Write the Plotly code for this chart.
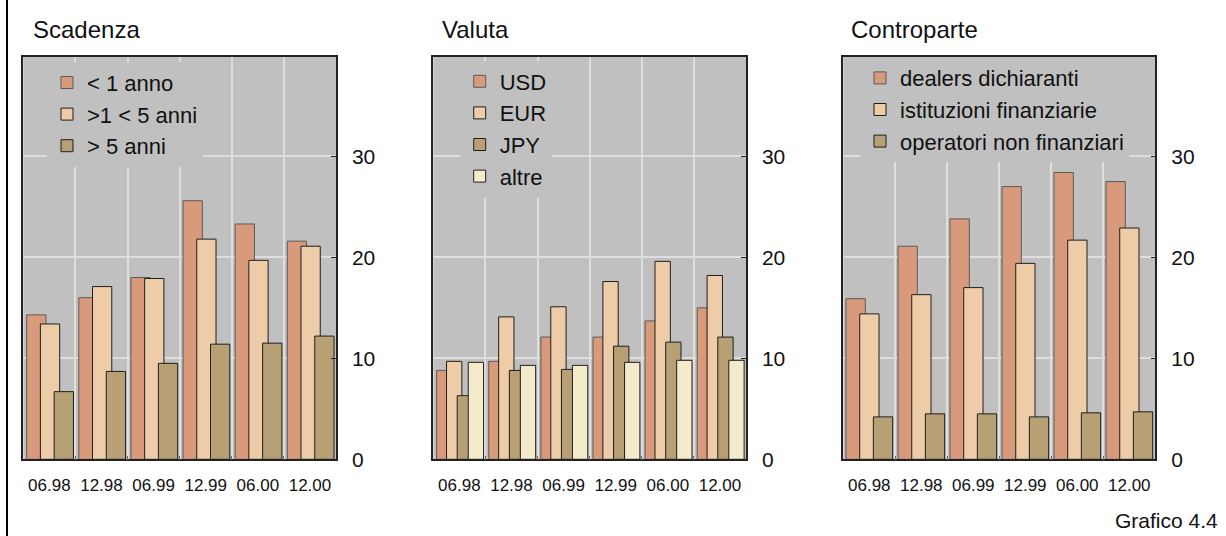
import plotly.graph_objects as go

W, H = 1226, 536
FONT = "Liberation Sans, Arial, sans-serif"

categories = ["06.98", "12.98", "06.99", "12.99", "06.00", "12.00"]

# Scadenza
scad_names = ["< 1 anno", ">1 < 5 anni", "> 5 anni"]
scad_lt1 = [14.3, 16.0, 18.0, 25.6, 23.3, 21.6]
scad_1to5 = [13.4, 17.1, 17.9, 21.8, 19.7, 21.1]
scad_gt5 = [6.7, 8.7, 9.5, 11.4, 11.5, 12.2]

# Valuta
val_names = ["USD", "EUR", "JPY", "altre"]
val_usd = [8.8, 9.7, 12.1, 12.1, 13.7, 15.0]
val_eur = [9.7, 14.1, 15.1, 17.6, 19.6, 18.2]
val_jpy = [6.3, 8.8, 8.9, 11.2, 11.6, 12.1]
val_altre = [9.6, 9.3, 9.3, 9.6, 9.8, 9.8]

# Controparte
ctp_names = ["dealers dichiaranti", "istituzioni finanziarie", "operatori non finanziari"]
ctp_dealers = [15.9, 21.1, 23.8, 27.0, 28.4, 27.5]
ctp_istit = [14.4, 16.3, 17.0, 19.4, 21.7, 22.9]
ctp_oper = [4.2, 4.5, 4.5, 4.2, 4.6, 4.7]

titles = ["Scadenza", "Valuta", "Controparte"]
footer = "Grafico 4.4"
y_ticks = [0, 10, 20, 30]

COL = ["#d89a7b", "#efcca8", "#b7a074", "#f4ebcb"]
EDGE = ["#5a5a5a", "#1e1e1e", "#1e1e1e", "#1e1e1e"]
BG = "#c0c0c0"

panels = [
    dict(series=[scad_lt1, scad_1to5, scad_gt5], names=scad_names,
         width=0.37, offsets=[-0.435, -0.172, 0.092],
         px=(23.3, 336.0), title_x=30.5, legend_xy=(47, 61.7),
         cover=(31, 226, 63, 164)),
    dict(series=[val_usd, val_eur, val_jpy, val_altre], names=val_names,
         width=0.294, offsets=[-0.436, -0.246, -0.041, 0.170],
         px=(433.3, 746.0), title_x=440.0, legend_xy=(459.7, 60.5),
         cover=(444, 573, 63, 195)),
    dict(series=[ctp_dealers, ctp_istit, ctp_oper], names=ctp_names,
         width=0.371, offsets=[-0.448, -0.184, 0.078],
         px=(843.3, 1155.3), title_x=849.0, legend_xy=(860, 57.1),
         cover=(848, 1150, 60, 158)),
]

PY0, PY1 = 57.0, 459.3  # plot top / bottom in px
ydom = [1 - PY1 / H, 1 - PY0 / H]

fig = go.Figure()
annotations = []
shapes = [dict(type="line", xref="paper", yref="paper", x0=7 / W, x1=7 / W,
               y0=0, y1=1, line=dict(color="#000000", width=2))]
for i, p in enumerate(panels):
    k = "" if i == 0 else str(i + 1)
    lg = "legend" if i == 0 else f"legend{i + 1}"
    for j, (vals, name) in enumerate(zip(p["series"], p["names"])):
        fig.add_trace(go.Bar(
            x=categories, y=vals, name=name,
            xaxis="x" + k, yaxis="y" + k, legend=lg, legendgroup=f"{i}-{j}",
            width=p["width"], offset=p["offsets"][j],
            marker=dict(color=COL[j], line=dict(color=EDGE[j], width=1)),
            hoverinfo="x+y+name",
        ))
    x0, x1 = p["px"]
    axis_common = dict(showline=True, linecolor="#222222", linewidth=1.5,
                       mirror=True, automargin=False, fixedrange=True)
    fig.update_layout(**{
        "xaxis" + k: dict(domain=[x0 / W, x1 / W], anchor="y" + k, type="category",
                          tickson="boundaries", ticks="inside", ticklen=4,
                          tickcolor="#666666", showgrid=True, gridcolor="#dedede",
                          gridwidth=2, ticklabelstandoff=10,
                          tickfont=dict(family=FONT, size=17, color="#111111"),
                          **axis_common),
        "yaxis" + k: dict(domain=ydom, anchor="x" + k, side="right",
                          range=[0, (PY1 - PY0) / 10.1], tickvals=y_ticks,
                          ticks="inside", ticklen=5, tickcolor="#222222",
                          showgrid=True, gridcolor="#dedede", gridwidth=2,
                          zeroline=False, ticklabelstandoff=10,
                          tickfont=dict(family=FONT, size=21, color="#111111"),
                          **axis_common),
        lg: dict(x=p["legend_xy"][0] / W, y=1 - p["legend_xy"][1] / H,
                 xanchor="left", yanchor="top", bgcolor=BG,
                 tracegroupgap=3.5, traceorder="normal",
                 font=dict(family=FONT, size=22, color="#111111")),
    })
    cx0, cx1, cy0, cy1 = p["cover"]
    shapes.append(dict(type="rect", xref="paper", yref="paper", layer="between",
                       x0=cx0 / W, x1=cx1 / W, y0=1 - cy1 / H, y1=1 - cy0 / H,
                       fillcolor=BG, line=dict(width=0)))
    annotations.append(dict(text=titles[i], xref="paper", yref="paper",
                            x=p["title_x"] / W, y=1 - 30 / H, xanchor="left",
                            yanchor="middle", showarrow=False,
                            font=dict(family=FONT, size=24, color="#111111")))

annotations.append(dict(text=footer, xref="paper", yref="paper", x=1220 / W,
                        y=1 - 520.5 / H, xanchor="right", yanchor="middle",
                        showarrow=False, font=dict(family=FONT, size=21, color="#111111")))

fig.update_layout(
    width=W, height=H, margin=dict(l=0, r=0, t=0, b=0, autoexpand=False),
    paper_bgcolor="white", plot_bgcolor=BG,
    barmode="overlay", showlegend=True,
    annotations=annotations, shapes=shapes,
    font=dict(family=FONT, color="#111111"),
)

fig.write_html("out.html", config={"displayModeBar": False},
               post_script="document.body.style.margin='0px';")
